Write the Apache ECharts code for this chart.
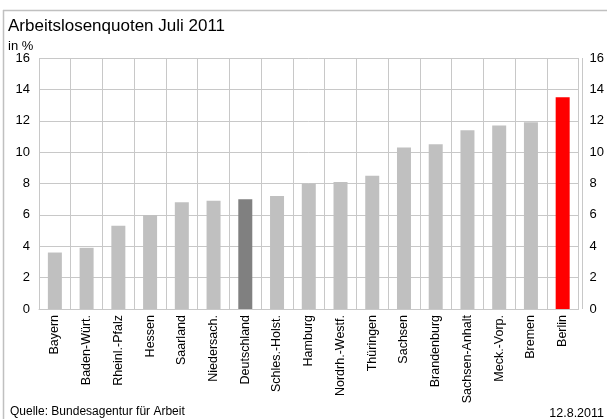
<!DOCTYPE html>
<html><head><meta charset="utf-8">
<script src="https://cdn.jsdelivr.net/npm/echarts@6/dist/echarts.min.js"></script>
<style>html,body{margin:0;padding:0;background:#fff}#c{width:607px;height:419px}</style>
</head><body><div id="c"></div>
<script>
var categories = ["Bayern","Baden-Würt.","Rheinl.-Pfalz","Hessen","Saarland","Niedersach.","Deutschland","Schles.-Holst.","Hamburg","Nordrh.-Westf.","Thüringen","Sachsen","Brandenburg","Sachsen-Anhalt","Meck.-Vorp.","Bremen","Berlin"];
var values = [3.6,3.9,5.3,6.0,6.8,6.9,7.0,7.2,8.0,8.1,8.5,10.3,10.5,11.4,11.7,11.9,13.5];
var highlightDark = ["Deutschland"];
var highlightRed = ["Berlin"];
var yTicks = [0,2,4,6,8,10,12,14,16];

var font = "'Liberation Sans', Arial, sans-serif";
var chart = echarts.init(document.getElementById('c'), null, {renderer:'canvas'});
var data = values.map(function(v,i){
  var c = '#c0c0c0';
  if (highlightDark.indexOf(categories[i])>=0) c = '#808080';
  if (highlightRed.indexOf(categories[i])>=0) c = '#ff0000';
  return {value:v, itemStyle:{color:c}};
});
var yAxisCommon = {
  type:'value', min:yTicks[0], max:yTicks[yTicks.length-1], interval:2,
  axisLine:{show:false}, axisTick:{show:false},
  axisLabel:{color:'#000', fontSize:13, fontFamily:font}
};
chart.setOption({
  animation:false,
  backgroundColor:'#fff',
  textStyle:{fontFamily:font},
  grid:{left:39, right:24, top:58, bottom:110, containLabel:false},
  title:[
    {text:'Arbeitslosenquoten Juli 2011', left:8, top:18, padding:0, textStyle:{fontSize:17, fontWeight:'normal', color:'#000', fontFamily:font}},
    {text:'in %', left:8, top:40, padding:0, textStyle:{fontSize:13, fontWeight:'normal', color:'#000', fontFamily:font}},
    {text:'Quelle: Bundesagentur für Arbeit', left:10, top:406, padding:0, textStyle:{fontSize:12, fontWeight:'normal', color:'#000', fontFamily:font}},
    {text:'12.8.2011', right:3, top:407, padding:0, textStyle:{fontSize:12.5, fontWeight:'normal', color:'#000', fontFamily:font}}
  ],
  xAxis:{
    type:'category', data:categories, boundaryGap:true,
    axisLine:{show:true, lineStyle:{color:'#c8c8c8', width:1}},
    axisTick:{show:false},
    splitLine:{show:true, interval:0, lineStyle:{color:'#c8c8c8', width:1}},
    axisLabel:{interval:0, rotate:90, color:'#000', fontSize:12.5, fontFamily:font, margin:6}
  },
  yAxis:[
    Object.assign({}, yAxisCommon, {position:'left', splitLine:{show:true, lineStyle:{color:'#c8c8c8', width:1}}, axisLabel:Object.assign({}, yAxisCommon.axisLabel, {margin:9})}),
    Object.assign({}, yAxisCommon, {position:'right', splitLine:{show:false}, axisLabel:Object.assign({}, yAxisCommon.axisLabel, {margin:11})})
  ],
  graphic:[
    {type:'line', shape:{x1:3.5, y1:10, x2:3.5, y2:419}, style:{stroke:'#c0c0c0', lineWidth:1.5}},
    {type:'line', shape:{x1:3, y1:10.5, x2:607, y2:10.5}, style:{stroke:'#c0c0c0', lineWidth:1.5}},
    {type:'line', shape:{x1:39.5, y1:58, x2:39.5, y2:309}, style:{stroke:'#c8c8c8', lineWidth:1}},
    {type:'line', shape:{x1:582.5, y1:58, x2:582.5, y2:309}, style:{stroke:'#c8c8c8', lineWidth:1}}
  ],
  series:[{type:'bar', data:data, barWidth:14, yAxisIndex:0}]
});
</script></body></html>
